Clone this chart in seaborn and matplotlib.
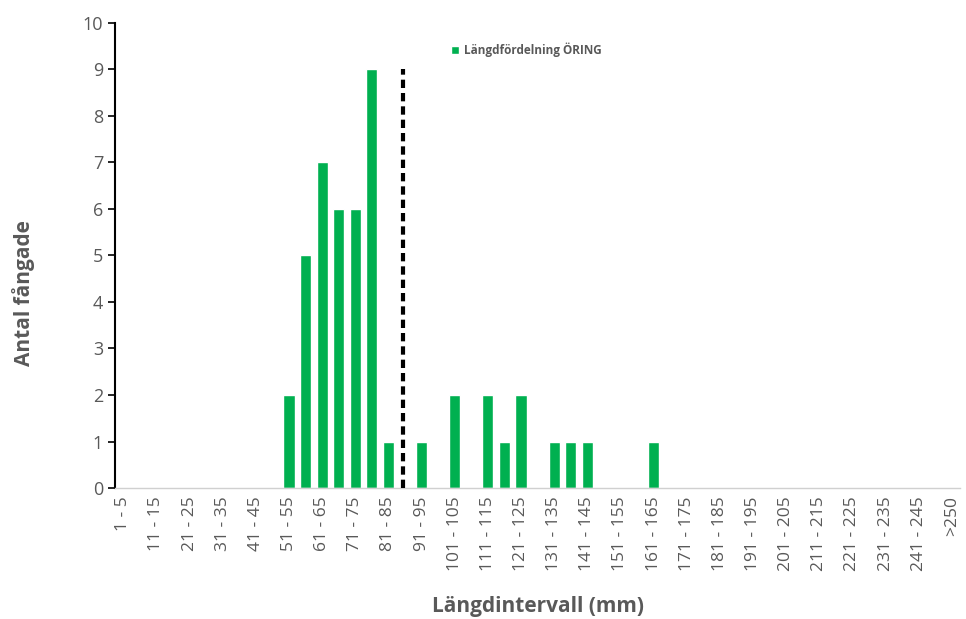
import numpy as np
import pandas as pd
import matplotlib.pyplot as plt
import seaborn as sns

# length intervals (mm), 5 mm bins plus overflow
intervals = [f"{lo} - {lo + 4}" for lo in range(1, 250, 5)] + [">250"]
counts = [0, 0, 0, 0, 0, 0, 0, 0, 0, 0,
          2, 5, 7, 6, 6, 9, 1, 0, 1, 0,
          2, 0, 2, 1, 2, 0, 1, 1, 1, 0,
          0, 0, 1, 0, 0, 0, 0, 0, 0, 0,
          0, 0, 0, 0, 0, 0, 0, 0, 0, 0,
          0]
limit_pos = 16.9   # dashed marker, between 81-85 and 91-95
limit_height = 9

df = pd.DataFrame({"interval": intervals, "antal": counts})

sns.set_style("white")
plt.rcParams['font.family'] = ['Open Sans', 'DejaVu Sans']

fig = plt.figure(figsize=(9.66, 6.19), dpi=100)
ax = fig.add_axes([0.119, 0.2116, 0.875, 0.7514])

sns.barplot(data=df, x="interval", y="antal", order=intervals, color="#00B050",
            width=0.67, saturation=1, label="Längdfördelning ÖRING", ax=ax)
ax.plot([limit_pos, limit_pos], [0, limit_height], color="black", lw=3,
        ls=(0, (2, 1.2)), zorder=3)

ax.set_xlim(-0.5, len(intervals) - 0.5)
ax.set_ylim(0, 10)
ax.set_yticks(range(0, 11))
ax.tick_params(axis="y", labelsize=13, labelcolor="#595959", color="black",
               length=5, width=1.2, direction="out", left=True)
ax.set_xticks(range(0, len(intervals), 2))
ax.set_xticklabels(intervals[::2], rotation=90, fontsize=12.5, color="#595959")
ax.tick_params(axis="x", length=0, pad=6)

for s in ["top", "right"]:
    ax.spines[s].set_visible(False)
ax.spines["left"].set_color("black")
ax.spines["left"].set_linewidth(1.5)
ax.spines["bottom"].set_color("#d0d0d0")
ax.spines["bottom"].set_linewidth(1)

ax.set_xlabel("Längdintervall (mm)", fontsize=15, fontweight="bold", color="#595959",
              labelpad=18)
ax.set_ylabel("Antal fångade", fontsize=15, fontweight="bold", color="#595959")
ax.yaxis.set_label_coords(-0.095, 0.42)

leg = ax.legend(loc="upper left", bbox_to_anchor=(0.385, 0.98), frameon=False,
                fontsize=8.5, handlelength=0.7, handleheight=0.7, handletextpad=0.4)
for t in leg.get_texts():
    t.set_color("#595959")
    t.set_fontweight("bold")

fig.savefig("out.png", dpi=100)
